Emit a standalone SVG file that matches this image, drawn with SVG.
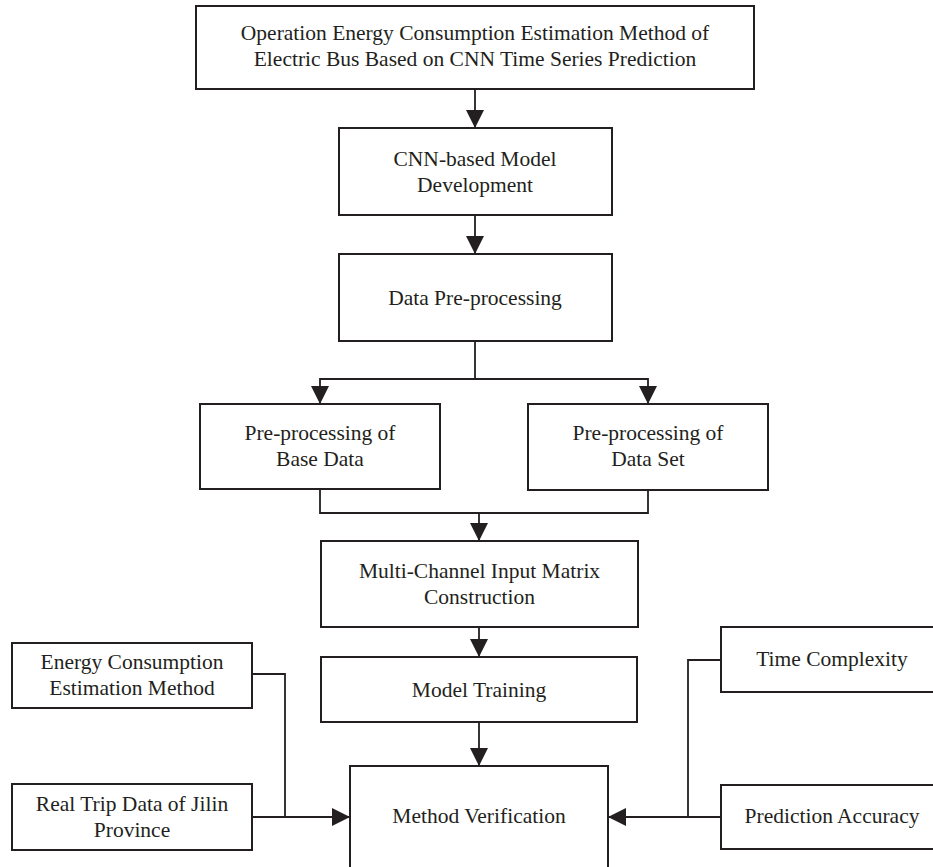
<svg xmlns="http://www.w3.org/2000/svg" width="933" height="867" viewBox="0 0 933 867">
<style>
.box{fill:#fff;stroke:#231f20;stroke-width:2}
.lbl{font-family:"Liberation Serif","Times New Roman",serif;font-size:21.5px;fill:#231f20;text-anchor:middle}
.con{fill:none;stroke:#231f20;stroke-width:1.8}
</style>
<defs>
<marker id="arr" markerUnits="userSpaceOnUse" markerWidth="18" markerHeight="18" viewBox="0 0 18 18" refX="18" refY="9" orient="auto">
<path d="M0,0 L18,9 L0,18 Z" fill="#231f20"/>
</marker>
</defs>
<rect width="933" height="867" fill="#fff"/>
<g id="connectors">
<path class="con" d="M475,89 V128" marker-end="url(#arr)"/>
<path class="con" d="M475,215 V254" marker-end="url(#arr)"/>
<path class="con" d="M475,341 V379 H320 V404" marker-end="url(#arr)"/>
<path class="con" d="M475,379 H648 V404" marker-end="url(#arr)"/>
<path class="con" d="M320,489 V513 H648 V490"/>
<path class="con" d="M479,513 V541" marker-end="url(#arr)"/>
<path class="con" d="M479,627 V657" marker-end="url(#arr)"/>
<path class="con" d="M479,722 V766" marker-end="url(#arr)"/>
<path class="con" d="M252,674 H285 V817"/>
<path class="con" d="M252,817 H350" marker-end="url(#arr)"/>
<path class="con" d="M721,660 H688 V817"/>
<path class="con" d="M721,817 H608" marker-end="url(#arr)"/>
</g>
<g id="n-top">
<rect class="box" x="196" y="6" width="558" height="83"/>
<text class="lbl" x="475" y="40">Operation Energy Consumption Estimation Method of</text>
<text class="lbl" x="475" y="66">Electric Bus Based on CNN Time Series Prediction</text>
</g>
<g id="n-cnn">
<rect class="box" x="339" y="128" width="273" height="87"/>
<text class="lbl" x="475" y="165.5">CNN-based Model</text>
<text class="lbl" x="475" y="191.5">Development</text>
</g>
<g id="n-datapre">
<rect class="box" x="339" y="254" width="273" height="87"/>
<text class="lbl" x="475" y="304.5">Data Pre-processing</text>
</g>
<g id="n-base">
<rect class="box" x="200" y="404" width="240" height="85"/>
<text class="lbl" x="320" y="440">Pre-processing of</text>
<text class="lbl" x="320" y="466">Base Data</text>
</g>
<g id="n-dataset">
<rect class="box" x="528" y="404" width="240" height="86"/>
<text class="lbl" x="648" y="440">Pre-processing of</text>
<text class="lbl" x="648" y="466">Data Set</text>
</g>
<g id="n-multi">
<rect class="box" x="321" y="541" width="317" height="86"/>
<text class="lbl" x="479.5" y="578">Multi-Channel Input Matrix</text>
<text class="lbl" x="479.5" y="604">Construction</text>
</g>
<g id="n-train">
<rect class="box" x="321" y="657" width="316" height="65"/>
<text class="lbl" x="479" y="696.5">Model Training</text>
</g>
<g id="n-verify">
<rect class="box" x="350" y="766" width="258" height="120"/>
<text class="lbl" x="479" y="823">Method Verification</text>
</g>
<g id="n-energy">
<rect class="box" x="12" y="643" width="240" height="65"/>
<text class="lbl" x="132" y="669">Energy Consumption</text>
<text class="lbl" x="132" y="695">Estimation Method</text>
</g>
<g id="n-trip">
<rect class="box" x="12" y="784" width="240" height="66"/>
<text class="lbl" x="132" y="810.5">Real Trip Data of Jilin</text>
<text class="lbl" x="132" y="836.5">Province</text>
</g>
<g id="n-time">
<rect class="box" x="721" y="627" width="222" height="65"/>
<text class="lbl" x="832" y="666">Time Complexity</text>
</g>
<g id="n-acc">
<rect class="box" x="721" y="785" width="222" height="64"/>
<text class="lbl" x="832" y="823">Prediction Accuracy</text>
</g>
</svg>
